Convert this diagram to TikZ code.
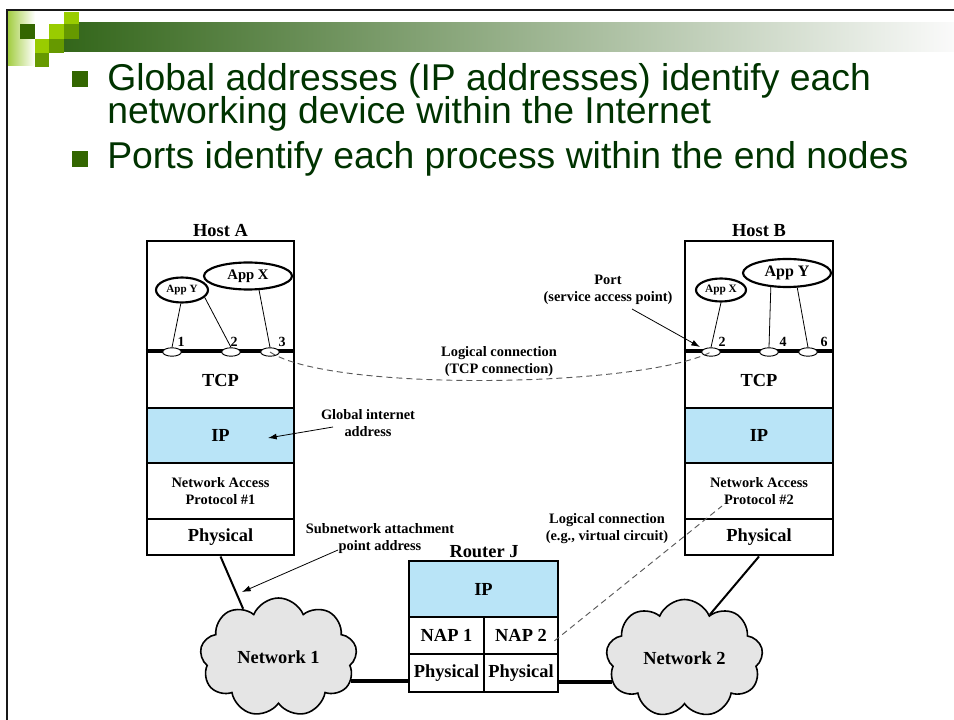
\documentclass[tikz,border=0pt]{standalone}
\usepackage{fontspec}
\setmainfont{Liberation Serif}
\newfontfamily\slidefont{Liberation Sans}
\usetikzlibrary{shapes.geometric,shapes.symbols,arrows.meta}

\definecolor{ipblue}{RGB}{185,228,247}
\definecolor{cloudgray}{RGB}{229,229,229}
\definecolor{titlegreen}{RGB}{0,51,0}
\definecolor{bulletgreen}{RGB}{51,102,0}
\definecolor{leafdark}{RGB}{51,102,0}
\definecolor{leaflight}{RGB}{153,204,0}
\definecolor{leafolive}{RGB}{102,153,0}
\definecolor{stripgreen}{RGB}{160,204,60}
\definecolor{bargreen}{RGB}{51,102,26}
\definecolor{bargray}{RGB}{172,184,162}
\definecolor{barend}{RGB}{250,250,250}

\begin{document}
\begin{tikzpicture}[x=0.75pt,y=-0.75pt,
  big/.style={font=\bfseries\fontsize{13.8}{15}\selectfont},
  small/.style={font=\bfseries\fontsize{10.8}{12.75}\selectfont, align=center, inner sep=0pt},
  digit/.style={font=\bfseries\fontsize{10.5}{12}\selectfont, inner sep=0pt},
  layer/.style={draw, line width=2.2pt, rectangle, inner sep=0pt, align=center},
  app/.style={ellipse, draw, line width=1.6pt, fill=white, inner sep=0pt, font=\bfseries},
  port/.style={ellipse, draw, line width=0.7pt, fill=white, inner sep=0pt,
               minimum width=14pt, minimum height=6.3pt},
  wire/.style={line width=0.6pt},
  pointer/.style={line width=0.6pt, -{Latex[length=6.5pt,width=4.5pt]}},
  logical/.style={line width=0.7pt, black!65, dash pattern=on 4.5pt off 3pt},
  link/.style={line width=1.5pt},
  trunk/.style={line width=2.6pt},
  net/.style={cloud, cloud puffs=9, cloud puff arc=135, cloud ignores aspect,
              draw, line width=1.2pt, fill=cloudgray, inner sep=0pt, big},
  slidetext/.style={font=\slidefont\fontsize{28}{30}\selectfont, text=titlegreen,
                    anchor=base west, inner sep=0pt}
]
\useasboundingbox (0,0) rectangle (954,720);

% ---- slide frame and title decoration ----
\shade[left color=stripgreen, right color=white] (7,12) rectangle (35,66);
\shade[left color=bargreen, middle color=bargray, right color=barend] (64,23) rectangle (954,52);
\draw[line width=1.5pt, black!90] (6.5,720) -- (6.5,10) -- (954,10);
\fill[leafdark]  (20,24) rectangle (35,39);
\fill[leaflight] (35,39) rectangle (49,53);
\fill[leaflight] (49,24) rectangle (64,39);
\fill[leaflight] (64,12) rectangle (79,24);
\fill[leafolive] (35,53) rectangle (49,67);
\fill[leafolive] (49,39) rectangle (64,53);
\fill[leafolive] (64,24) rectangle (79,39);

% ---- bullet points ----
\fill[bulletgreen] (72,71) rectangle (88,87);
\fill[bulletgreen] (72,151) rectangle (88,167);
\node[slidetext] (t1) at (107,91) {Global addresses (IP addresses) identify each};
\node[slidetext] (t2) at (107,124) {networking device within the Internet};
\node[slidetext] (t3) at (107,169) {Ports identify each process within the end nodes};

% ---- Host A ----
\node[big, inner sep=0pt] (hostA) at (220.5,231) {Host A};
\node[layer, minimum width=110.25pt, minimum height=83.25pt] (appA) at (220.5,296.5) {};
\node[layer, big, minimum width=110.25pt, minimum height=42pt] (tcpA) at (220.5,380) {TCP};
\node[layer, big, fill=ipblue, minimum width=110.25pt, minimum height=41.25pt] (ipA) at (220.5,435.5) {IP};
\node[layer, small, minimum width=110.25pt, minimum height=42pt] (napA) at (220.5,491) {Network Access\\Protocol \#1};
\node[layer, big, minimum width=110.25pt, minimum height=27pt] (phyA) at (220.5,537) {Physical};
\draw[line width=3pt] (tcpA.north west) -- (tcpA.north east);

\node[app, minimum width=39pt, minimum height=18.75pt, font=\bfseries\fontsize{8.3}{9}\selectfont] (appYA) at (182,290) {App Y};
\node[app, minimum width=66pt, minimum height=20.25pt, font=\bfseries\fontsize{11}{12}\selectfont] (appXA) at (248,276) {App X};

\node[port] (p1A) at (172,352) {};
\node[port] (p2A) at (231,352) {};
\node[port] (p3A) at (270,352) {};
\node[digit] (n1A) at (181,342) {1};
\node[digit] (n2A) at (234,342) {2};
\node[digit] (n3A) at (282,342) {3};

\draw[wire] (appYA.-95) -- (p1A.north);
\draw[wire] (appYA.-18) -- (p2A.north);
\draw[wire] (appXA.-52) -- (p3A.north);

% ---- Host B ----
\node[big, inner sep=0pt] (hostB) at (759,231) {Host B};
\node[layer, minimum width=111pt, minimum height=83.25pt] (appB) at (759,296.5) {};
\node[layer, big, minimum width=111pt, minimum height=42pt] (tcpB) at (759,380) {TCP};
\node[layer, big, fill=ipblue, minimum width=111pt, minimum height=41.25pt] (ipB) at (759,435.5) {IP};
\node[layer, small, minimum width=111pt, minimum height=42pt] (napB) at (759,491) {Network Access\\Protocol \#2};
\node[layer, big, minimum width=111pt, minimum height=27pt] (phyB) at (759,537) {Physical};
\draw[line width=3pt] (tcpB.north west) -- (tcpB.north east);

\node[app, minimum width=37.5pt, minimum height=17.25pt, font=\bfseries\fontsize{8.5}{9}\selectfont] (appXB) at (721,290) {App X};
\node[app, minimum width=66pt, minimum height=21pt, font=\bfseries\fontsize{12}{13}\selectfont] (appYB) at (787,273) {App Y};

\node[port] (p2B) at (711,352) {};
\node[port] (p4B) at (769,352) {};
\node[port] (p6B) at (808,352) {};
\node[digit] (n2B) at (722,342) {2};
\node[digit] (n4B) at (783,342) {4};
\node[digit] (n6B) at (824,342) {6};

\draw[wire] (appXB.-90) -- (p2B.north);
\draw[wire] (appYB.-139) -- (p4B.north);
\draw[wire] (appYB.-55) -- (p6B.north);

% ---- Router J ----
\node[big, inner sep=0pt] (routerJ) at (484,552) {Router J};
\node[layer, big, fill=ipblue, minimum width=111.75pt, minimum height=42pt] (rip) at (483.5,589) {IP};
\node[layer, big, minimum width=56.25pt, minimum height=27.75pt] (rnap1) at (446.5,635.5) {NAP 1};
\node[layer, big, minimum width=55.5pt, minimum height=27.75pt] (rnap2) at (521,635.5) {NAP 2};
\node[layer, big, minimum width=56.25pt, minimum height=28.5pt] (rphy1) at (446.5,673) {Physical};
\node[layer, big, minimum width=55.5pt, minimum height=28.5pt] (rphy2) at (521,673) {Physical};

% ---- networks ----
\node[net, minimum width=117.75pt, minimum height=89.25pt] (net1) at (278.5,657.5) {Network 1};
\node[net, minimum width=117.75pt, minimum height=88.5pt] (net2) at (684.5,658.5) {Network 2};

\draw[link] (phyA.south) -- (net1.126);
\draw[link] (phyB.south) -- (net2.60);
\draw[trunk] (net1.-18) -- (net1.-18 -| rphy1.west);
\draw[trunk] (rphy2.east |- net2.198) -- (net2.198);

% ---- logical connections ----
\draw[logical] (p3A.center) .. controls (330,392) and (640,388) .. (p2B.center);
\node[small] (tcplbl) at (499,361.5) {Logical connection\\(TCP connection)};

\coordinate (vcEnd) at (722,506);
\draw[logical] ([shift={(-3.75pt,-4pt)}]rnap2.east) -- (vcEnd);
\node[small] (vclbl) at (607,528.5) {Logical connection\\(e.g., virtual circuit)};

% ---- annotations ----
\node[small] (portlbl) at (608,290) {Port\\(service access point)};
\coordinate (portTail) at (632,309);
\coordinate (portTip) at (700,347);
\draw[pointer] (portTail) -- (portTip);

\node[small] (globlbl) at (368,423.5) {Global internet\\address};
\coordinate (globTail) at (333,427);
\coordinate (globTip) at (268,438);
\draw[pointer] (globTail) -- (globTip);

\node[small] (sublbl) at (380,538.5) {Subnetwork attachment\\point address};
\coordinate (subTail) at (338,550);
\coordinate (subTip) at (242,592);
\draw[pointer] (subTail) -- (subTip);
\end{tikzpicture}
\end{document}
